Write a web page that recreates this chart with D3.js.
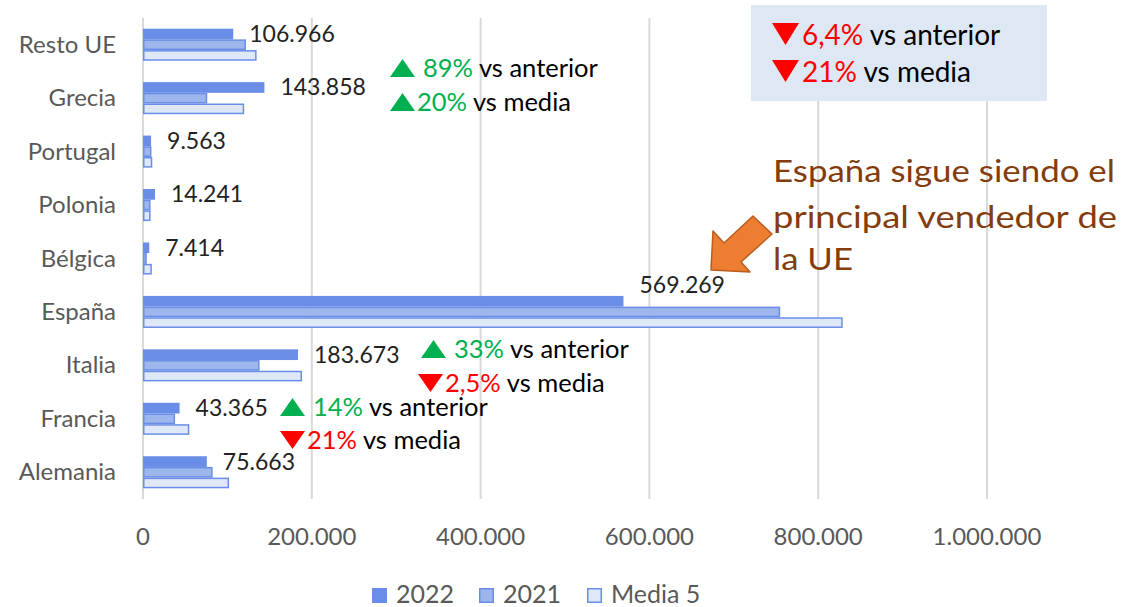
<!DOCTYPE html>
<html><head><meta charset="utf-8">
<script src="https://cdn.jsdelivr.net/npm/d3@7"></script>
<style>
html,body{margin:0;padding:0;background:#fff;}
svg{display:block;font-family:Lato,"Noto Sans",sans-serif;}
</style></head>
<body>
<svg id="chart" width="1122" height="607"></svg>
<script>
const categories = ["Resto UE","Grecia","Portugal","Polonia","Bélgica","España","Italia","Francia","Alemania"];
const seriesNames = ["2022","2021","Media 5"];
const values2022 = [106966,143858,9563,14241,7414,569269,183673,43365,75663];
const values2021 = [122000,76100,10000,9000,4500,755000,138100,38000,82500];
const valuesMedia5 = [134600,119900,11000,9000,10500,829000,188400,54900,102000];
const xTicks = [0,200000,400000,600000,800000,1000000];

const fmt = d => d3.format(",")(d).replace(/,/g,".");
const series = [values2022, values2021, valuesMedia5];
const fills = ["#6a8ee8","#9db6ec","#dee8f6"];
const strokes = ["none","#6a8ee8","#6a8ee8"];

const svg = d3.select("#chart");
svg.append("rect").attr("width",1122).attr("height",607).attr("fill","#fff");

const x = d3.scaleLinear().domain([0,1000000]).range([143,987]);
const y = d3.scaleBand().domain(categories).range([18,499]).paddingInner(0.4).paddingOuter(0.2);
const ys = d3.scaleBand().domain(seriesNames).range([0,y.bandwidth()]);

// gridlines
svg.append("g").selectAll("line").data(xTicks).join("line")
  .attr("x1",d=>x(d)).attr("x2",d=>x(d)).attr("y1",18).attr("y2",499)
  .attr("stroke","#d9d9d9").attr("stroke-width",2);

// tick labels
svg.append("g").selectAll("text").data(xTicks).join("text")
  .attr("x",d=>x(d)).attr("y",545).attr("text-anchor","middle")
  .attr("font-size",24).attr("fill","#595959").text(d=>fmt(d));

// category labels
svg.append("g").selectAll("text").data(categories).join("text")
  .attr("x",116).attr("y",d=>y(d)+y.bandwidth()/2+8).attr("text-anchor","end")
  .attr("font-size",24).attr("fill","#595959").text(d=>d);

// bars
seriesNames.forEach((s,si)=>{
  svg.append("g").selectAll("rect").data(categories).join("rect")
    .attr("x",x(0)+ (si>0?0.75:0))
    .attr("y",(c)=>y(c)+ys(s)+(si>0?0.75:0))
    .attr("width",(c,i)=>Math.max(0,x(series[si][i])-x(0)-(si>0?1.5:0)))
    .attr("height",ys.bandwidth()-(si>0?1.5:0))
    .attr("fill",fills[si]).attr("stroke",strokes[si]).attr("stroke-width",1.5);
});

// value labels (moved above the group when the 2021 bar runs under them)
svg.append("g").selectAll("text").data(categories).join("text")
  .attr("x",(c,i)=>x(values2022[i])+16)
  .attr("y",(c,i)=>{
    const lx = x(values2022[i])+16;
    if (x(values2021[i]) > lx) return y(c)-3;
    return y(c)+ys("2022")+ys.bandwidth()/2+8;
  })
  .attr("font-size",23).attr("fill","#222").text((c,i)=>fmt(values2022[i]));

// annotations
const green="#00b050", red="#ff0000";
function note(x0,yb,up,pct,rest,size,gap,tw,th){
  const col = up?green:red;
  const pts = up
    ? [[x0,yb],[x0+tw,yb],[x0+tw/2,yb-th]]
    : [[x0,yb-th],[x0+tw,yb-th],[x0+tw/2,yb]];
  svg.append("polygon").attr("points",pts.map(p=>p.join(",")).join(" ")).attr("fill",col);
  const t = svg.append("text").attr("x",x0+tw+gap).attr("y",yb).attr("font-size",size);
  t.append("tspan").attr("fill",col).text(pct);
  t.append("tspan").attr("fill","#000").text(rest);
}
// top-right box
svg.append("rect").attr("x",751).attr("y",5).attr("width",296).attr("height",96).attr("fill","#dde8f4");
note(772,45,false,"6,4%"," vs anterior",28,3,27,22);
note(772,82,false,"21%"," vs media",28,3,27,22);
note(390,77,true,"89%"," vs anterior",25.5,8,25,18);
note(390,111,true,"20%"," vs media",25.5,2,25,18);
note(421,358,true,"33%"," vs anterior",25.5,8,25,18);
note(418,392,false,"2,5%"," vs media",25.5,2,25,18);
note(280,416,true,"14%"," vs anterior",25.5,8,25,18);
note(280,449,false,"21%"," vs media",25.5,2,25,18);

// arrow
svg.append("polygon")
  .attr("points","711,270 713,231 724,243 753,216 772,234 741,262 750,272")
  .attr("fill","#ed7d31").attr("stroke","#b85d1d").attr("stroke-width",1.5).attr("stroke-linejoin","round");

// handwritten note
const hw = [["España sigue siendo el",182,342],["principal vendedor de",228,344],["la UE",270,80]];
hw.forEach(([t,yy,w])=>{
  svg.append("text").attr("x",773).attr("y",yy).attr("font-size",31)
    .attr("fill","#843c0c").attr("textLength",w).attr("lengthAdjust","spacingAndGlyphs").text(t);
});

// legend
const leg = [[372,396],[479,503],[587,611]];
seriesNames.forEach((s,i)=>{
  svg.append("rect").attr("x",leg[i][0]+(i>0?0.75:0)).attr("y",588+(i>0?0.75:0))
    .attr("width",15-(i>0?1.5:0)).attr("height",15-(i>0?1.5:0))
    .attr("fill",fills[i]).attr("stroke",strokes[i]).attr("stroke-width",1.5);
  svg.append("text").attr("x",leg[i][1]).attr("y",603).attr("font-size",25)
    .attr("fill","#595959").text(s);
});
</script>
</body></html>
